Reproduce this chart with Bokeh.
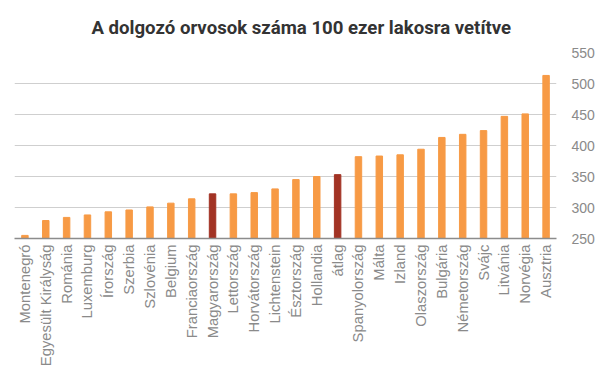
from bokeh.plotting import figure
from bokeh.models import ColumnDataSource, Range1d, FixedTicker, Title
from bokeh.embed import file_html
from bokeh.resources import INLINE

countries = ["Montenegró", "Egyesült Királyság", "Románia", "Luxemburg", "Írország",
             "Szerbia", "Szlovénia", "Belgium", "Franciaország", "Magyarország",
             "Lettország", "Horvátország", "Lichtenstein", "Észtország", "Hollandia",
             "átlag", "Spanyolország", "Málta", "Izland", "Olaszország", "Bulgária",
             "Németország", "Svájc", "Litvánia", "Norvégia", "Ausztria"]
values = [255, 279, 284, 288, 293, 296, 301, 307, 314, 322,
          322, 324, 330, 345, 350, 353, 382, 383, 385, 394, 413,
          418, 424, 447, 451, 513]
highlight = ["Magyarország", "átlag"]
y_ticks = [250, 300, 350, 400, 450, 500, 550]

ORANGE = "#F79A45"
RED = "#A23324"
colors = [RED if c in highlight else ORANGE for c in countries]

src = ColumnDataSource(dict(x=countries, top=values, color=colors))

p = figure(x_range=countries, y_range=Range1d(250, 550),
           width=597, height=369, output_backend="svg", toolbar_location=None,
           y_axis_location="right", min_border_left=14, min_border_right=0,
           min_border_top=4, min_border_bottom=0)

p.vbar(x="x", top="top", bottom=250, width=0.31, color="color", source=src)

p.title = Title(text="A dolgozó orvosok száma 100 ezer lakosra vetítve", align="left",
                text_font="Roboto", text_font_size="18.6px", text_font_style="bold",
                text_color="#333333", offset=77, standoff=28)

yax = p.yaxis[0]
yax.ticker = FixedTicker(ticks=y_ticks)
yax.axis_line_color = None
yax.major_tick_line_color = None
yax.minor_tick_line_color = None
yax.major_tick_out = 0
yax.major_tick_in = 0
yax.major_label_text_font = "Liberation Sans"
yax.major_label_text_font_size = "14px"
yax.major_label_text_color = "#8a8a8a"
yax.major_label_standoff = 15

xax = p.xaxis[0]
xax.axis_line_color = "#8c8c8c"
xax.axis_line_width = 1.5
xax.major_tick_line_color = None
xax.minor_tick_line_color = None
xax.major_tick_out = 0
xax.major_tick_in = 0
xax.major_label_orientation = 1.5708
xax.major_label_text_font = "Liberation Sans"
xax.major_label_text_font_size = "14.8px"
xax.major_label_text_color = "#8a8a8a"
xax.major_label_standoff = 6

p.xgrid.grid_line_color = None
p.ygrid.grid_line_color = "#cfcfcf"
p.ygrid.grid_line_width = 1
p.ygrid.ticker = FixedTicker(ticks=y_ticks)
p.outline_line_color = None
p.x_range.range_padding = 0.0

open("out.html", "w").write(file_html(p, INLINE))
